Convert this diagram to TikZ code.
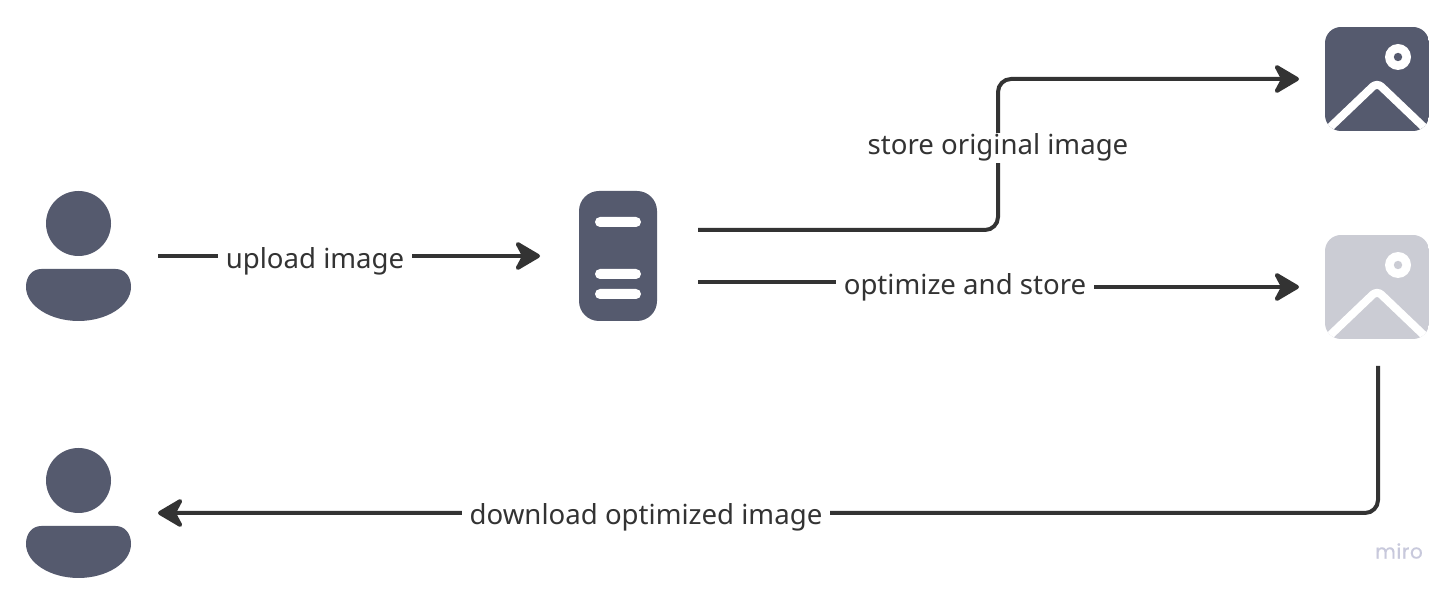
\documentclass[tikz,border=0pt]{standalone}
\usepackage{fontspec}
\setmainfont{Noto Sans}
\newfontfamily\miroface[FakeBold=0.4,LetterSpace=3]{Poppins}
\usetikzlibrary{arrows.meta,calc}
\definecolor{icondark}{HTML}{555A6E}
\definecolor{iconlight}{HTML}{CBCCD4}
\definecolor{linedark}{HTML}{333333}
\definecolor{miromark}{HTML}{C8C9DC}
\tikzset{
  x=0.5pt,y=-0.5pt,
  slot/.style={inner sep=0pt,outer sep=0pt,minimum width=#1},
  conn/.style={draw=linedark,line width=2pt,rounded corners=6.5pt,
    -{Stealth[length=14.5pt,width=17pt,inset=4.5pt,round]}},
  lbl/.style={fill=white,text=linedark,font=\fontsize{13.8}{16}\selectfont,inner xsep=4pt,inner ysep=0.5pt,anchor=base},
  pics/person/.style={code={
    \fill[icondark] (0,-32.5) circle[radius=16.25pt];
    \fill[icondark] (-52.5,31) .. controls (-52.5,20) and (-46,13) .. (-37,13)
      -- (37,13) .. controls (46,13) and (52.5,20) .. (52.5,31)
      .. controls (52.5,50) and (28,65) .. (0,65)
      .. controls (-28,65) and (-52.5,50) .. (-52.5,31) -- cycle;
  }},
  pics/serverbox/.style={code={
    \fill[icondark,rounded corners=10pt] (-39,-65) rectangle (39,65);
    \fill[white,rounded corners=2.5pt] (-23,-39) rectangle (23,-29);
    \fill[white,rounded corners=2.5pt] (-23,13) rectangle (23,23);
    \fill[white,rounded corners=2.5pt] (-23,33) rectangle (23,43);
  }},
  pics/imagebox/.style={code={
    \begin{scope}
      \clip[rounded corners=8pt] (-52,-52) rectangle (52,52);
      \fill[#1] (-52,-52) rectangle (52,52);
      \fill[white] (21,-22) circle[radius=6.5pt];
      \fill[#1] (21,-22) circle[radius=2.1pt];
      \draw[white,line width=4pt,line join=round,rounded corners=3pt] (-55,56) -- (0,3.5) -- (55,56);
    \end{scope}
  }},
}
\begin{document}
\begin{tikzpicture}
\useasboundingbox (0,0) rectangle (1456,592);
\fill[white] (0,0) rectangle (1456,592);

% invisible named boxes carrying the icons
\node[slot=105,minimum height=65pt] (user)   at (78.5,256) {};
\node[slot=105,minimum height=65pt] (client) at (78.5,513) {};
\node[slot=39pt,minimum height=65pt] (server) at (618,256) {};
\node[slot=52pt,minimum height=52pt] (orig)  at (1377,79) {};
\node[slot=52pt,minimum height=52pt] (opt)   at (1377,287) {};

\pic at (user.center) {person};
\pic at (client.center) {person};
\pic at (server.center) {serverbox};
\pic at (orig.center) {imagebox=icondark};
\pic at (opt.center) {imagebox=iconlight};

% connectors
\draw[conn] ($(user.center)+(79.5,0)$) -- ($(server.center)+(-78,0)$);
\draw[conn] ($(server.center)+(80,-26)$) -- ++(300,0) |- ($(orig.center)+(-78,0)$);
\draw[conn,rounded corners=0pt] ($(server.center)+(80,26.5)$) -- ++(267,0) -- ++(0,4.5) -- ($(opt.center)+(-78,0)$);
\draw[conn] ($(opt.center)+(1,79)$) |- ($(client.center)+(79.5,0)$);

% labels
\node[lbl] (l1) at (315,269) {upload image};
\node[lbl] (l2) at (998,155) {store original image};
\node[lbl] (l3) at (965,295) {optimize and store};
\node[lbl] (l4) at (646,525) {download optimized image};
\node[text=miromark,font=\miroface\fontsize{10}{12}\selectfont,inner sep=0pt] (miro) at (1399,551) {miro};
\end{tikzpicture}
\end{document}
